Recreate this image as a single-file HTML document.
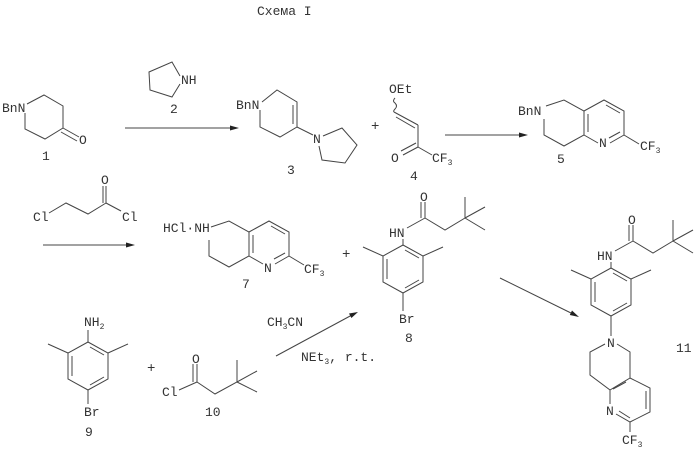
<!DOCTYPE html>
<html><head><meta charset="utf-8"><style>
html,body{margin:0;padding:0;background:#fff;}
svg{display:block;}
text{font-family:"Liberation Mono",monospace;font-size:13px;fill:#333;}
.s{font-size:8px;}
line,polyline,polygon,path{stroke:#444;stroke-width:1;fill:none;}
.ah{fill:#222;stroke:none;}
</style></head><body>
<svg width="699" height="455" viewBox="0 0 699 455" xmlns="http://www.w3.org/2000/svg">
<defs>
<g id="nap">
<polyline points="211,227 229,221 249,232 249,256 229,267 209,256 209,240"/>
<polyline points="249,232 269,221 289,232 289,256"/>
<line x1="289" y1="256" x2="275" y2="264"/>
<line x1="263" y1="264" x2="249" y2="256"/>
<line x1="253" y1="235" x2="253" y2="253"/>
<line x1="271" y1="226" x2="285" y2="234"/>
<line x1="285" y1="253" x2="274" y2="259"/>
<line x1="289" y1="256" x2="304" y2="265"/>
</g>
<g id="ar">
<polygon points="0,0 20,11 20,37 0,48 -20,37 -20,11"/>
<line x1="2" y1="5" x2="16" y2="13"/>
<line x1="16" y1="35" x2="2" y2="43"/>
<line x1="-16" y1="14" x2="-16" y2="34"/>
<line x1="-20" y1="11" x2="-40" y2="2"/>
<line x1="20" y1="11" x2="40" y2="2"/>
</g>
<g id="amide">
<line x1="407" y1="228" x2="425" y2="218"/>
<line x1="425" y1="218" x2="425" y2="202"/>
<line x1="421" y1="218" x2="421" y2="202"/>
<polyline points="425,218 445,230 465,218 465,197"/>
<line x1="465" y1="218" x2="485" y2="207"/>
<line x1="465" y1="218" x2="485" y2="230"/>
<text x="420" y="201">O</text>
<text x="389" y="237">HN</text>
<line x1="403" y1="239" x2="403" y2="245"/>
</g>
</defs>

<text x="257" y="15">Схема I</text>

<!-- 1 -->
<text x="2" y="112">BnN</text>
<polyline points="27,104 44,95 63,106 63,128 45,139 25,129 25,113"/>
<line x1="63" y1="128" x2="79" y2="137"/>
<line x1="61" y1="132" x2="77" y2="141"/>
<text x="79" y="144">O</text>
<text x="42" y="160">1</text>

<line x1="125" y1="128" x2="232" y2="128"/>
<polygon class="ah" points="239,128 230,125.5 230,130.5"/>
<polyline points="180,76 172,62 149,72 150,90 172,97 180,84"/>
<text x="181" y="84">NH</text>
<text x="170" y="113">2</text>

<!-- 3 -->
<text x="236" y="109">BnN</text>
<polyline points="262,102 277,90 297,102 297,127 280,137 260,127 260,110"/>
<line x1="293" y1="105" x2="293" y2="124"/>
<line x1="297" y1="127" x2="313" y2="135"/>
<text x="313" y="143">N</text>
<polyline points="323,136 342,128 357,145 345,163 322,160 319,146"/>
<text x="287" y="174">3</text>

<text x="371" y="130" style="font-size:14px">+</text>

<!-- 4 -->
<text x="389" y="93">OEt</text>
<path d="M395,98 q-3,3 0,5 q3,3 0,6 q-2,2 -1,3"/>
<line x1="394" y1="112" x2="418" y2="125"/>
<line x1="396" y1="117" x2="415" y2="128"/>
<line x1="418" y1="125" x2="418" y2="147"/>
<line x1="418" y1="147" x2="403" y2="155"/>
<line x1="416" y1="143" x2="401" y2="151"/>
<line x1="418" y1="147" x2="432" y2="155"/>
<text x="391" y="162">O</text>
<text x="432" y="162">CF<tspan class="s" dy="3">3</tspan></text>
<text x="410" y="180">4</text>

<line x1="445" y1="135" x2="521" y2="135"/>
<polygon class="ah" points="528,135 519,132.5 519,137.5"/>

<!-- 5 -->
<g transform="translate(335,-121)"><use href="#nap"/></g>
<text x="518" y="115">BnN</text>
<text x="599" y="147">N</text>
<text x="640" y="150">CF<tspan class="s" dy="3">3</tspan></text>
<text x="557" y="163">5</text>

<!-- chloropropanoyl chloride -->
<text x="33" y="221">Cl</text>
<polyline points="49,213 66,203 88,214 106,203"/>
<line x1="106" y1="203" x2="106" y2="186"/>
<line x1="103" y1="203" x2="103" y2="186"/>
<line x1="106" y1="203" x2="121" y2="211"/>
<text x="101" y="184">O</text>
<text x="122" y="221">Cl</text>
<line x1="43" y1="245" x2="128" y2="245"/>
<polygon class="ah" points="135,245 126,242.5 126,247.5"/>

<!-- 7 -->
<use href="#nap"/>
<text x="163" y="232">HCl·NH</text>
<text x="264" y="272">N</text>
<text x="304" y="273">CF<tspan class="s" dy="3">3</tspan></text>
<text x="242" y="288">7</text>

<text x="342" y="258" style="font-size:14px">+</text>

<!-- 8 -->
<use href="#amide"/>
<g transform="translate(403,245)"><use href="#ar"/></g>
<line x1="403" y1="293" x2="403" y2="311"/>
<text x="399" y="323">Br</text>
<text x="405" y="342">8</text>

<line x1="500" y1="278" x2="573" y2="314"/>
<polygon class="ah" points="579,317 572,310.5 569.8,315"/>

<!-- 11 -->
<g transform="translate(208,23)"><use href="#amide"/></g>
<g transform="translate(611,268)"><use href="#ar"/></g>
<line x1="611" y1="316" x2="611" y2="336"/>
<text x="607" y="347">N</text>
<polyline points="605,344 590,352 590,375 610,390 610,404"/>
<polyline points="617,344 630,352 630,378 610,390"/>
<polyline points="630,378 650,388 650,412 630,422 616,414"/>
<line x1="626" y1="382" x2="613" y2="389"/>
<line x1="646" y1="391" x2="646" y2="409"/>
<line x1="630" y1="418" x2="619" y2="411"/>
<line x1="630" y1="422" x2="630" y2="432"/>
<text x="606" y="415">N</text>
<text x="622" y="444">CF<tspan class="s" dy="3">3</tspan></text>
<text x="676" y="352">11</text>

<!-- 9 -->
<text x="84" y="326">NH<tspan class="s" dy="3">2</tspan></text>
<line x1="88" y1="330" x2="88" y2="342"/>
<g transform="translate(88,342)"><use href="#ar"/></g>
<line x1="88" y1="390" x2="88" y2="404"/>
<text x="84" y="416">Br</text>
<text x="85" y="436">9</text>

<text x="147" y="372" style="font-size:14px">+</text>

<!-- 10 -->
<text x="162" y="396">Cl</text>
<line x1="179" y1="390" x2="197" y2="382"/>
<line x1="197" y1="382" x2="197" y2="364"/>
<line x1="193" y1="382" x2="193" y2="364"/>
<polyline points="197,382 215,394 237,382 237,360"/>
<line x1="237" y1="382" x2="257" y2="371"/>
<line x1="237" y1="382" x2="257" y2="392"/>
<text x="192" y="363">O</text>
<text x="205" y="416">10</text>

<line x1="276" y1="356" x2="352" y2="315"/>
<polygon class="ah" points="358,312 349,313.5 351.4,318"/>
<text x="267" y="326">CH<tspan class="s" dy="3">3</tspan><tspan dy="-3">CN</tspan></text>
<text x="301" y="361">NEt<tspan class="s" dy="3">3</tspan><tspan dy="-3">, r.t.</tspan></text>
</svg>
</body></html>
